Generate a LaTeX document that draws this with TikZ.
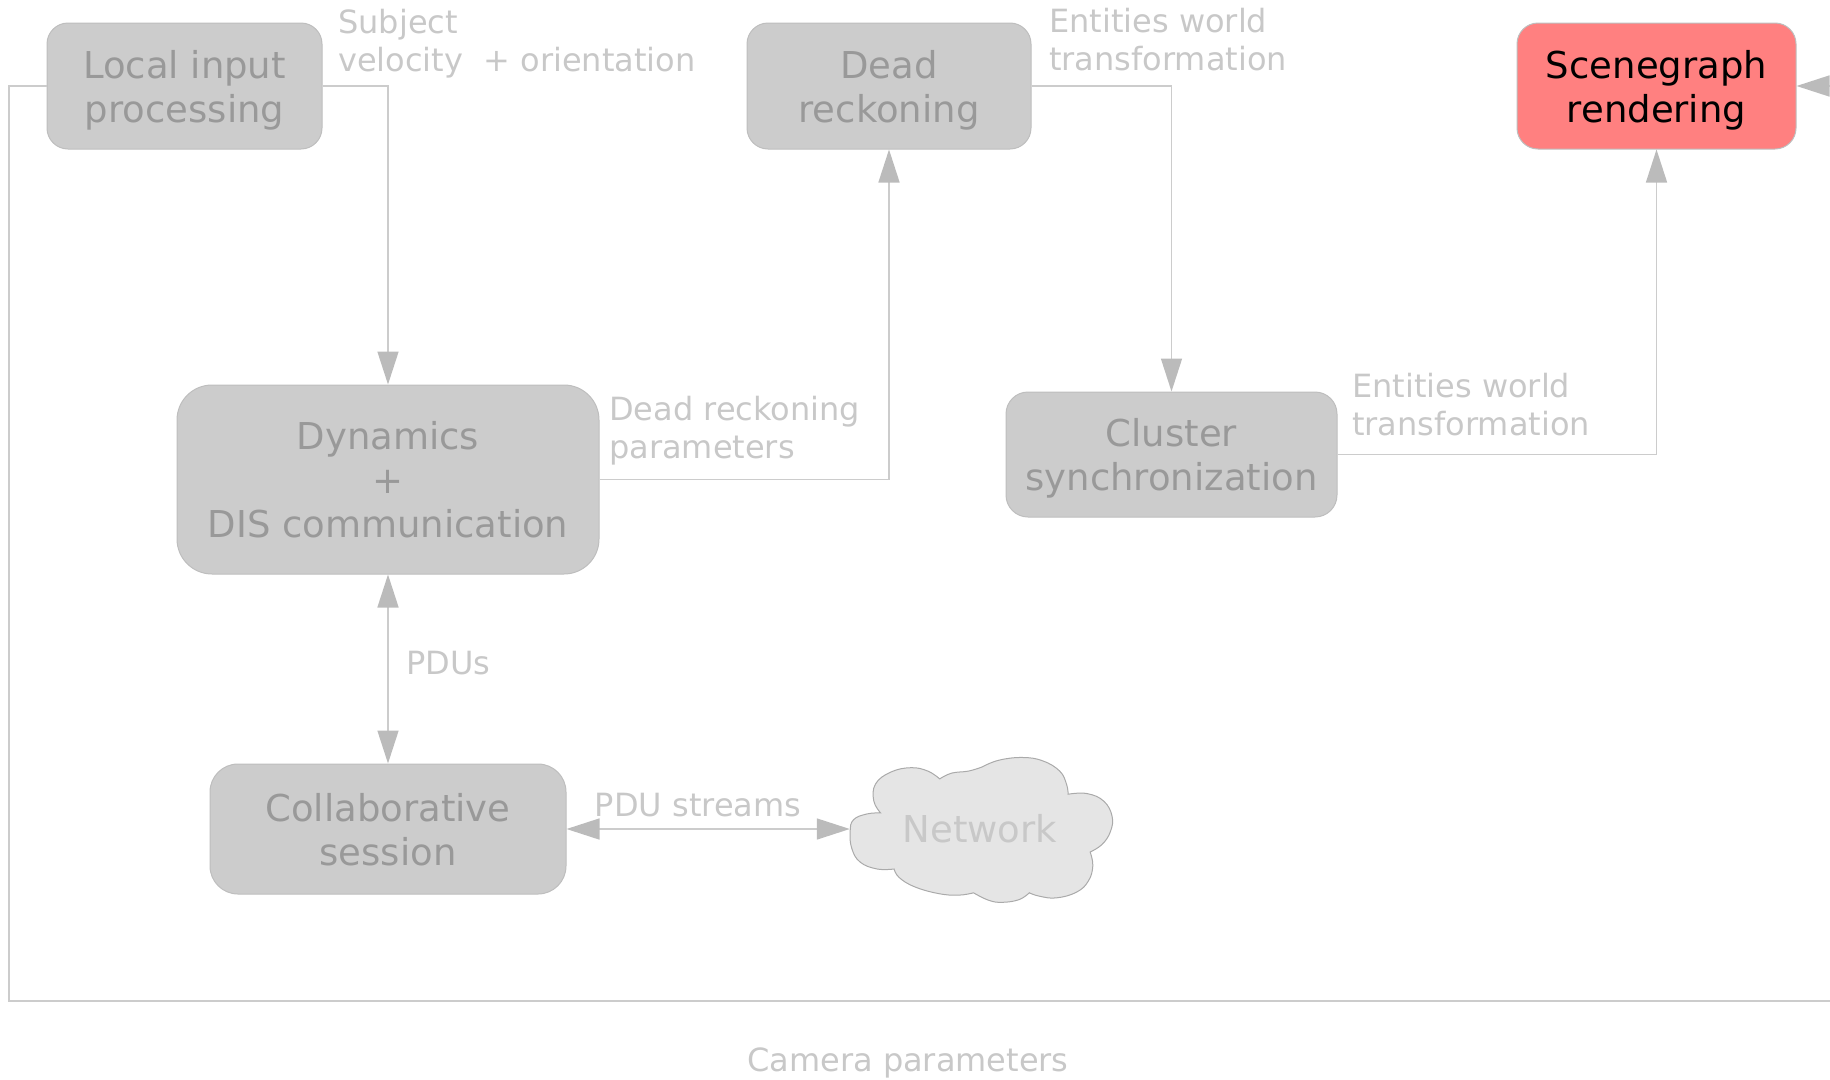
\documentclass[tikz,border=0pt]{standalone}
\usepackage{fontspec}
\setmainfont{DejaVu Sans}
\usetikzlibrary{arrows.meta}
\definecolor{boxfill}{RGB}{204,204,204}
\definecolor{boxline}{RGB}{190,190,190}
\definecolor{boxtext}{RGB}{153,153,153}
\definecolor{wirec}{RGB}{204,204,204}
\definecolor{tipc}{RGB}{187,187,187}
\definecolor{labeltext}{RGB}{200,200,200}
\definecolor{hotfill}{RGB}{255,128,128}
\definecolor{cloudfill}{RGB}{229,229,229}
\definecolor{cloudline}{RGB}{170,170,170}
\begin{document}
\begin{tikzpicture}[x=1pt,y=-1pt,
  proc/.style={draw=boxline, line width=1pt, fill=boxfill, text=boxtext,
    rounded corners=#1, align=center, inner sep=0pt, text depth=0pt,
    font=\fontsize{37}{44}\selectfont},
  proc/.default=21pt,
  lbl/.style={text=labeltext, align=left, inner sep=0pt,
    font=\fontsize{32}{37.5}\selectfont},
  wire/.style={draw=wirec, line width=1.5pt},
  arr/.style={-{Triangle[length=33pt,width=21pt,color=tipc]}},
  arrboth/.style={{Triangle[length=33pt,width=21pt,color=tipc]}-{Triangle[length=33pt,width=21pt,color=tipc]}},
  lobe/.style={smooth, tension=0.7}
]
\useasboundingbox (0,0) rectangle (1830,1079);
\clip (0,0) rectangle (1830,1079);

% processing stages
\node[proc, minimum width=275pt, minimum height=126pt] (loc) at (184.5,86) {Local input\\processing};
\node[proc, minimum width=284pt, minimum height=126pt] (dead) at (889,86) {Dead\\reckoning};
\node[proc, fill=hotfill, text=black, minimum width=279pt, minimum height=126pt] (scene) at (1656.5,86) {Scenegraph\\rendering};
\node[proc=35pt, minimum width=422pt, minimum height=189pt] (dyn) at (388,479.5) {Dynamics\\+\\DIS communication};
\node[proc=22pt, minimum width=331pt, minimum height=125pt] (clus) at (1171.5,454.5) {Cluster\\synchronization};
\node[proc=28pt, minimum width=356pt, minimum height=130pt] (coll) at (388,829) {Collaborative\\session};

% network cloud outline, one smooth lobe between each pair of notches
\begin{scope}[shift={(840,750)}, x=0.338pt, y=-0.34pt]
\filldraw[draw=cloudline, fill=cloudfill, line width=1pt]
  plot[lobe] coordinates {(160,350) (110,350) (60,330) (35,290) (30,240) (40,205) (80,188) (120,185)}
  -- plot[lobe] coordinates {(120,185) (100,150) (105,100) (150,65) (210,52) (260,62) (295,85)}
  -- plot[lobe] coordinates {(295,85) (330,68) (380,62) (420,50)}
  -- plot[lobe] coordinates {(420,50) (470,30) (540,22) (600,32) (650,62) (670,100) (675,130)}
  -- plot[lobe] coordinates {(675,130) (730,128) (780,150) (805,195) (800,240) (775,278) (740,300)}
  -- plot[lobe] coordinates {(740,300) (748,340) (735,385) (700,418) (640,435) (590,430) (560,420)}
  -- plot[lobe] coordinates {(560,420) (530,440) (480,448) (440,442) (395,420)}
  -- plot[lobe] coordinates {(395,420) (350,427) (290,422) (220,402) (175,375) (160,350)}
  -- cycle;
\end{scope}
\node[minimum width=260pt, minimum height=140pt, inner sep=0pt, text=labeltext,
  font=\fontsize{37}{44}\selectfont] (net) at (980,829) {Network};

% data flow
\draw[wire, arr] (loc.east) -| (dyn.north);
\draw[wire, arr] (dyn.east) -| (dead.south);
\draw[wire, arr] (dead.east) -| (clus.north);
\draw[wire, arr] (clus.east) -| (scene.south);
\draw[wire, arrboth] (dyn.south) -- (coll.north);
\draw[wire, arrboth] (coll.east) -- (net.west);

% camera loop around the whole diagram
\coordinate (camL) at (9,1001);
\coordinate (camR) at (1900,1001);
\draw[wire, arr] (loc.west) -| (camL) -- (camR) |- (scene.east);

% edge labels
\node[lbl, anchor=north west] (lsubj) at (338,9) {Subject\\velocity~ + orientation};
\node[lbl, anchor=north west] (ldr) at (609,396) {Dead reckoning\\parameters};
\node[lbl, anchor=north west] (lent1) at (1049,8) {Entities world\\transformation};
\node[lbl, anchor=north west] (lent2) at (1352,373) {Entities world\\transformation};
\node[lbl, anchor=west] (lpdu) at (406,663) {PDUs};
\node[lbl, anchor=center] (lstream) at (698,805) {PDU streams};
\node[lbl, anchor=base] (lcam) at (908,1071) {Camera parameters};
\end{tikzpicture}
\end{document}
